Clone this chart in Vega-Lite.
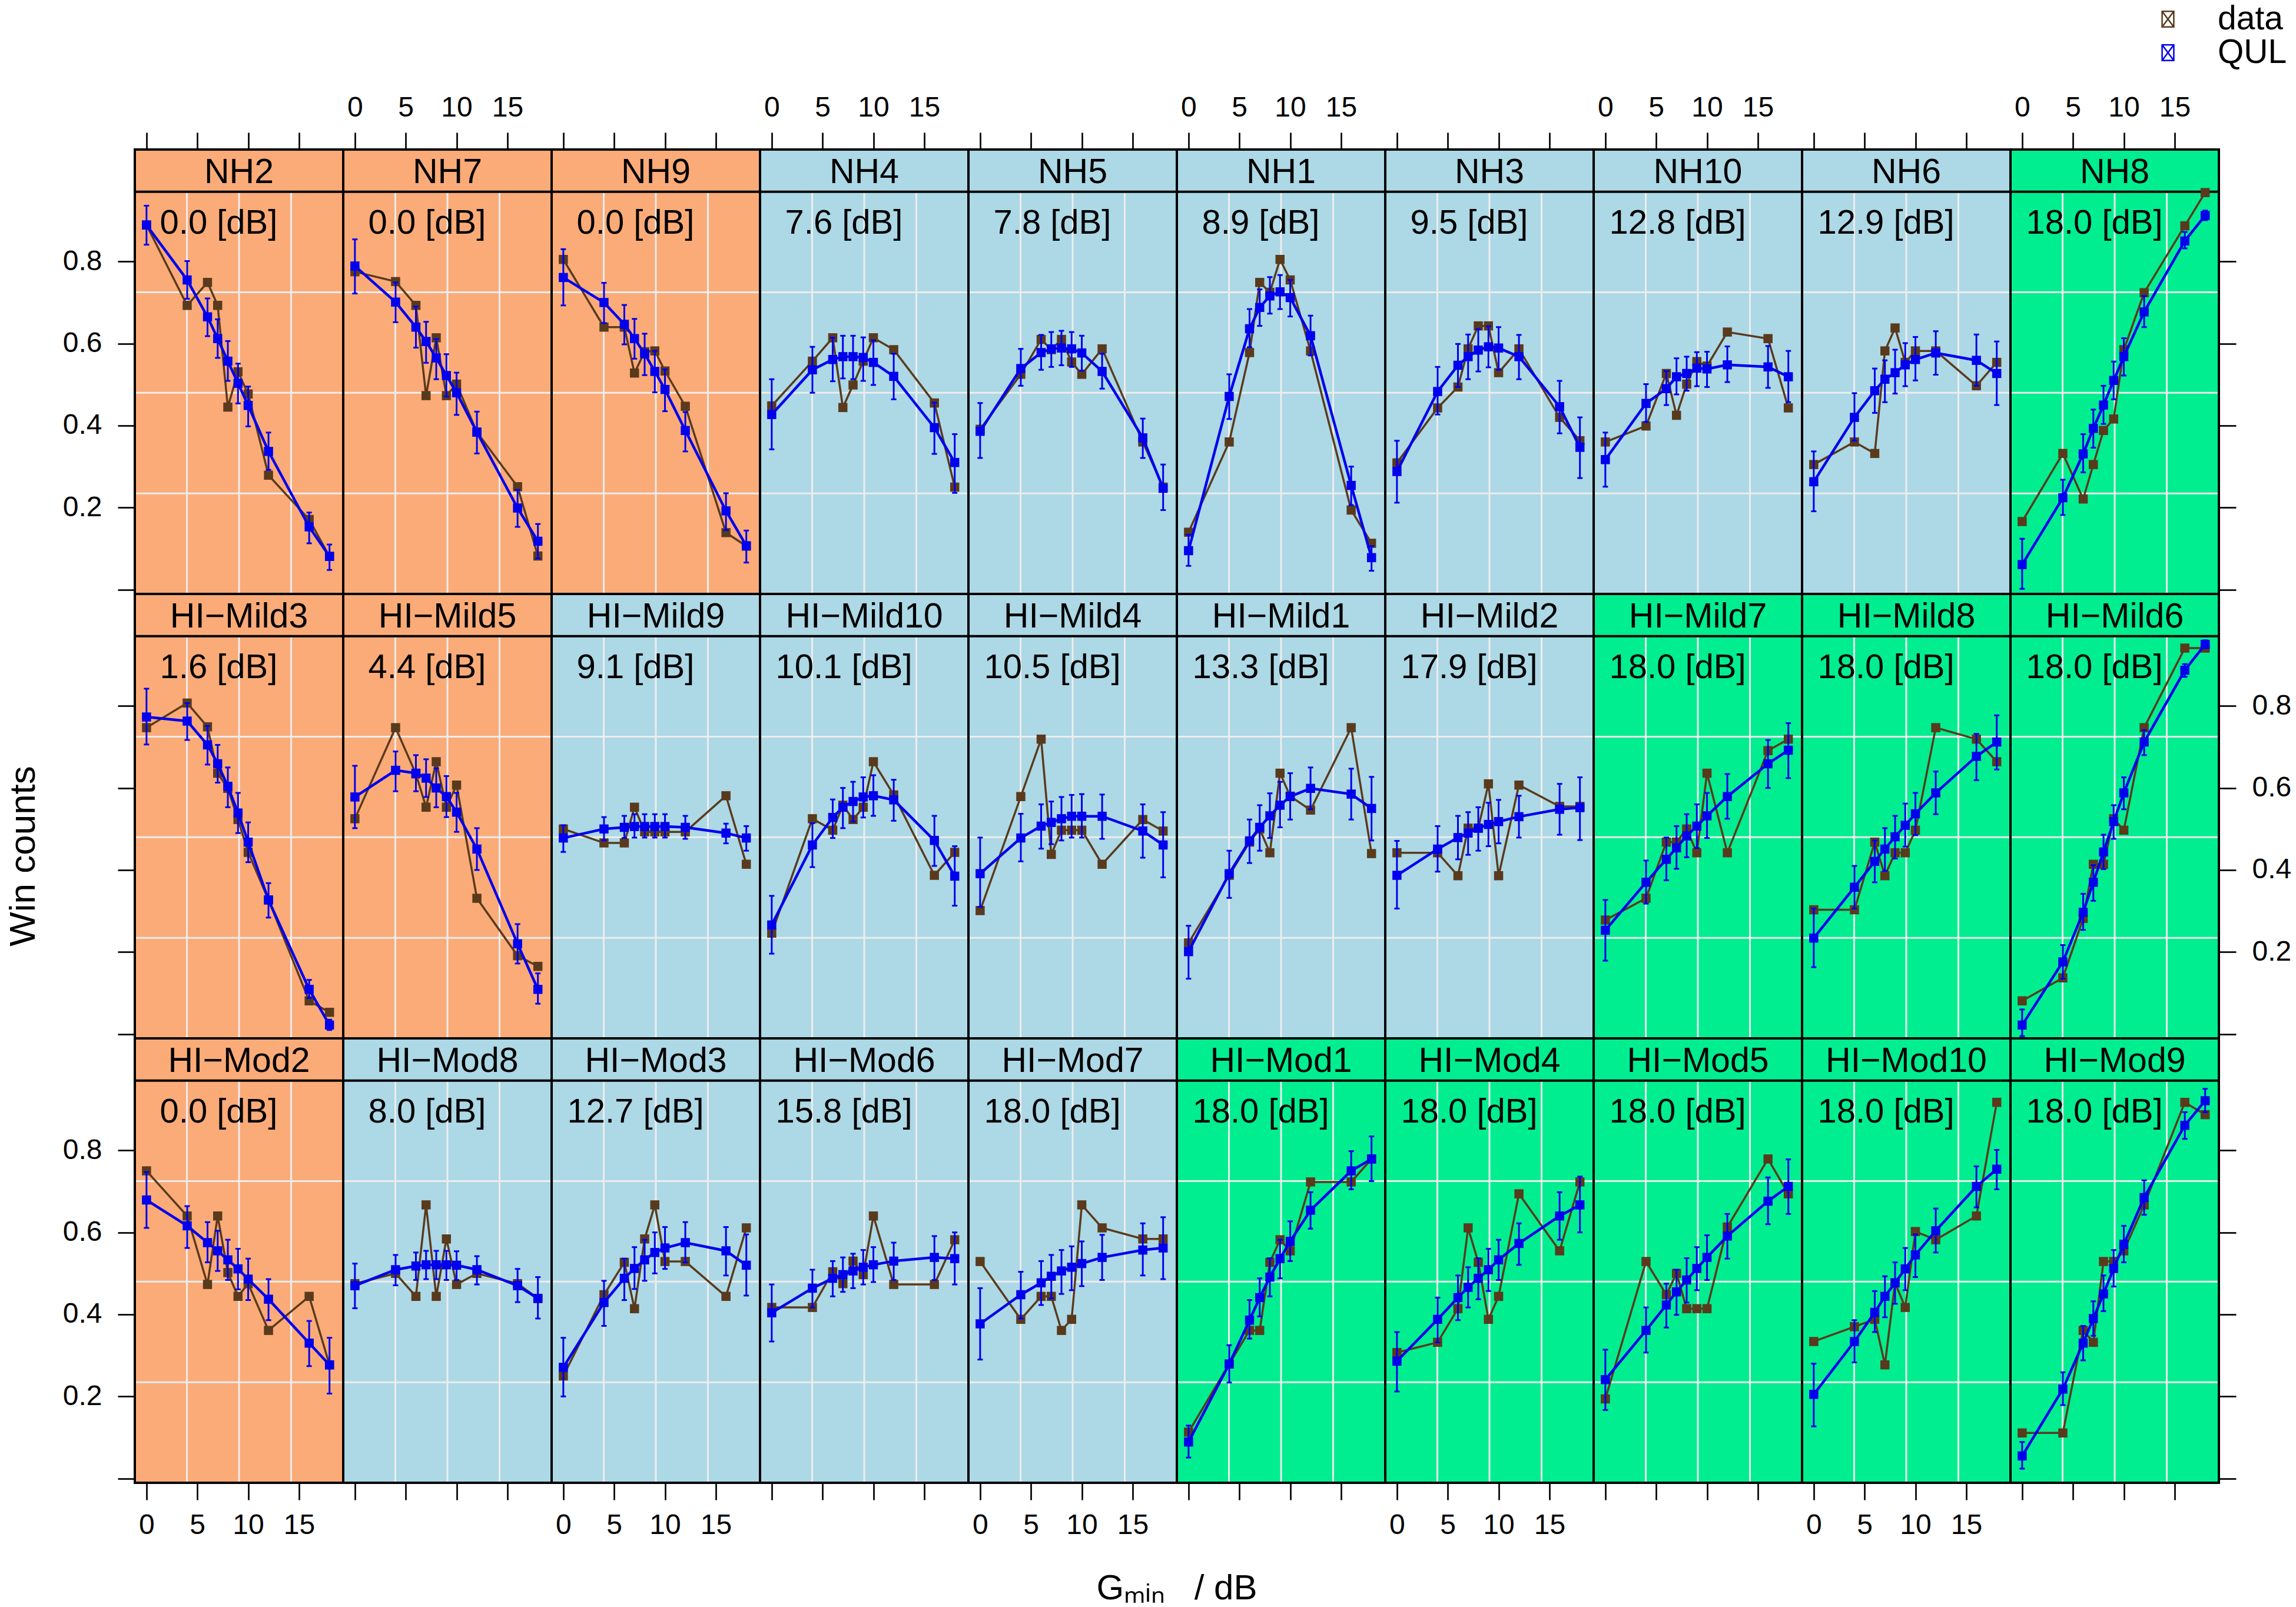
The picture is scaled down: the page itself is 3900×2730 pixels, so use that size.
{
  "$schema": "https://vega.github.io/schema/vega-lite/v6.json",
  "background": "white",
  "padding": {"left": 8, "top": 4, "right": 0, "bottom": 0},
  "bounds": "flush",
  "datasets": {
    "panels": [
      {"p": "NH2", "r": 1, "c": 1, "g": "o", "db": "0.0 [dB]"},
      {"p": "NH7", "r": 1, "c": 2, "g": "o", "db": "0.0 [dB]"},
      {"p": "NH9", "r": 1, "c": 3, "g": "o", "db": "0.0 [dB]"},
      {"p": "NH4", "r": 1, "c": 4, "g": "b", "db": "7.6 [dB]"},
      {"p": "NH5", "r": 1, "c": 5, "g": "b", "db": "7.8 [dB]"},
      {"p": "NH1", "r": 1, "c": 6, "g": "b", "db": "8.9 [dB]"},
      {"p": "NH3", "r": 1, "c": 7, "g": "b", "db": "9.5 [dB]"},
      {"p": "NH10", "r": 1, "c": 8, "g": "b", "db": "12.8 [dB]"},
      {"p": "NH6", "r": 1, "c": 9, "g": "b", "db": "12.9 [dB]"},
      {"p": "NH8", "r": 1, "c": 10, "g": "g", "db": "18.0 [dB]"},
      {"p": "HI−Mild3", "r": 2, "c": 1, "g": "o", "db": "1.6 [dB]"},
      {"p": "HI−Mild5", "r": 2, "c": 2, "g": "o", "db": "4.4 [dB]"},
      {"p": "HI−Mild9", "r": 2, "c": 3, "g": "b", "db": "9.1 [dB]"},
      {"p": "HI−Mild10", "r": 2, "c": 4, "g": "b", "db": "10.1 [dB]"},
      {"p": "HI−Mild4", "r": 2, "c": 5, "g": "b", "db": "10.5 [dB]"},
      {"p": "HI−Mild1", "r": 2, "c": 6, "g": "b", "db": "13.3 [dB]"},
      {"p": "HI−Mild2", "r": 2, "c": 7, "g": "b", "db": "17.9 [dB]"},
      {"p": "HI−Mild7", "r": 2, "c": 8, "g": "g", "db": "18.0 [dB]"},
      {"p": "HI−Mild8", "r": 2, "c": 9, "g": "g", "db": "18.0 [dB]"},
      {"p": "HI−Mild6", "r": 2, "c": 10, "g": "g", "db": "18.0 [dB]"},
      {"p": "HI−Mod2", "r": 3, "c": 1, "g": "o", "db": "0.0 [dB]"},
      {"p": "HI−Mod8", "r": 3, "c": 2, "g": "b", "db": "8.0 [dB]"},
      {"p": "HI−Mod3", "r": 3, "c": 3, "g": "b", "db": "12.7 [dB]"},
      {"p": "HI−Mod6", "r": 3, "c": 4, "g": "b", "db": "15.8 [dB]"},
      {"p": "HI−Mod7", "r": 3, "c": 5, "g": "b", "db": "18.0 [dB]"},
      {"p": "HI−Mod1", "r": 3, "c": 6, "g": "g", "db": "18.0 [dB]"},
      {"p": "HI−Mod4", "r": 3, "c": 7, "g": "g", "db": "18.0 [dB]"},
      {"p": "HI−Mod5", "r": 3, "c": 8, "g": "g", "db": "18.0 [dB]"},
      {"p": "HI−Mod10", "r": 3, "c": 9, "g": "g", "db": "18.0 [dB]"},
      {"p": "HI−Mod9", "r": 3, "c": 10, "g": "g", "db": "18.0 [dB]"}
    ],
    "pts": [
      {"p": "NH2", "x": 0, "d": 0.889, "q": 0.889, "lo": 0.841, "hi": 0.936},
      {"p": "NH2", "x": 4, "d": 0.693, "q": 0.755, "lo": 0.709, "hi": 0.801},
      {"p": "NH2", "x": 6, "d": 0.749, "q": 0.665, "lo": 0.618, "hi": 0.710},
      {"p": "NH2", "x": 7, "d": 0.693, "q": 0.612, "lo": 0.565, "hi": 0.659},
      {"p": "NH2", "x": 8, "d": 0.445, "q": 0.557, "lo": 0.509, "hi": 0.606},
      {"p": "NH2", "x": 9, "d": 0.531, "q": 0.503, "lo": 0.454, "hi": 0.551},
      {"p": "NH2", "x": 10, "d": 0.477, "q": 0.449, "lo": 0.398, "hi": 0.495},
      {"p": "NH2", "x": 12, "d": 0.279, "q": 0.337, "lo": 0.292, "hi": 0.383},
      {"p": "NH2", "x": 16, "d": 0.171, "q": 0.153, "lo": 0.113, "hi": 0.188},
      {"p": "NH2", "x": 18, "d": 0.081, "q": 0.081, "lo": 0.048, "hi": 0.110},
      {"p": "NH7", "x": 0, "d": 0.775, "q": 0.789, "lo": 0.722, "hi": 0.854},
      {"p": "NH7", "x": 4, "d": 0.751, "q": 0.701, "lo": 0.652, "hi": 0.749},
      {"p": "NH7", "x": 6, "d": 0.693, "q": 0.640, "lo": 0.590, "hi": 0.690},
      {"p": "NH7", "x": 7, "d": 0.473, "q": 0.605, "lo": 0.553, "hi": 0.653},
      {"p": "NH7", "x": 8, "d": 0.614, "q": 0.565, "lo": 0.513, "hi": 0.611},
      {"p": "NH7", "x": 9, "d": 0.473, "q": 0.522, "lo": 0.471, "hi": 0.574},
      {"p": "NH7", "x": 10, "d": 0.501, "q": 0.480, "lo": 0.426, "hi": 0.529},
      {"p": "NH7", "x": 12, "d": 0.384, "q": 0.384, "lo": 0.332, "hi": 0.434},
      {"p": "NH7", "x": 16, "d": 0.251, "q": 0.199, "lo": 0.153, "hi": 0.243},
      {"p": "NH7", "x": 18, "d": 0.082, "q": 0.118, "lo": 0.076, "hi": 0.160},
      {"p": "NH9", "x": 0, "d": 0.805, "q": 0.761, "lo": 0.693, "hi": 0.830},
      {"p": "NH9", "x": 4, "d": 0.640, "q": 0.700, "lo": 0.650, "hi": 0.748},
      {"p": "NH9", "x": 6, "d": 0.640, "q": 0.647, "lo": 0.598, "hi": 0.694},
      {"p": "NH9", "x": 7, "d": 0.528, "q": 0.612, "lo": 0.563, "hi": 0.660},
      {"p": "NH9", "x": 8, "d": 0.580, "q": 0.575, "lo": 0.523, "hi": 0.624},
      {"p": "NH9", "x": 9, "d": 0.582, "q": 0.532, "lo": 0.481, "hi": 0.582},
      {"p": "NH9", "x": 10, "d": 0.533, "q": 0.488, "lo": 0.435, "hi": 0.537},
      {"p": "NH9", "x": 12, "d": 0.447, "q": 0.388, "lo": 0.337, "hi": 0.433},
      {"p": "NH9", "x": 16, "d": 0.139, "q": 0.192, "lo": 0.145, "hi": 0.235},
      {"p": "NH9", "x": 18, "d": 0.106, "q": 0.107, "lo": 0.066, "hi": 0.144},
      {"p": "NH4", "x": 0, "d": 0.448, "q": 0.427, "lo": 0.342, "hi": 0.513},
      {"p": "NH4", "x": 4, "d": 0.557, "q": 0.536, "lo": 0.480, "hi": 0.592},
      {"p": "NH4", "x": 6, "d": 0.614, "q": 0.561, "lo": 0.508, "hi": 0.614},
      {"p": "NH4", "x": 7, "d": 0.444, "q": 0.568, "lo": 0.515, "hi": 0.619},
      {"p": "NH4", "x": 8, "d": 0.499, "q": 0.568, "lo": 0.513, "hi": 0.619},
      {"p": "NH4", "x": 9, "d": 0.557, "q": 0.566, "lo": 0.509, "hi": 0.615},
      {"p": "NH4", "x": 10, "d": 0.614, "q": 0.554, "lo": 0.499, "hi": 0.608},
      {"p": "NH4", "x": 12, "d": 0.585, "q": 0.520, "lo": 0.464, "hi": 0.575},
      {"p": "NH4", "x": 16, "d": 0.455, "q": 0.395, "lo": 0.331, "hi": 0.456},
      {"p": "NH4", "x": 18, "d": 0.250, "q": 0.310, "lo": 0.236, "hi": 0.379},
      {"p": "NH5", "x": 0, "d": 0.391, "q": 0.386, "lo": 0.321, "hi": 0.455},
      {"p": "NH5", "x": 4, "d": 0.525, "q": 0.539, "lo": 0.497, "hi": 0.587},
      {"p": "NH5", "x": 6, "d": 0.610, "q": 0.578, "lo": 0.536, "hi": 0.621},
      {"p": "NH5", "x": 7, "d": 0.585, "q": 0.587, "lo": 0.543, "hi": 0.628},
      {"p": "NH5", "x": 8, "d": 0.610, "q": 0.589, "lo": 0.547, "hi": 0.631},
      {"p": "NH5", "x": 9, "d": 0.555, "q": 0.587, "lo": 0.543, "hi": 0.628},
      {"p": "NH5", "x": 10, "d": 0.525, "q": 0.577, "lo": 0.534, "hi": 0.619},
      {"p": "NH5", "x": 12, "d": 0.587, "q": 0.532, "lo": 0.490, "hi": 0.575},
      {"p": "NH5", "x": 16, "d": 0.360, "q": 0.370, "lo": 0.321, "hi": 0.417},
      {"p": "NH5", "x": 18, "d": 0.250, "q": 0.247, "lo": 0.194, "hi": 0.305},
      {"p": "NH1", "x": 0, "d": 0.140, "q": 0.095, "lo": 0.058, "hi": 0.134},
      {"p": "NH1", "x": 4, "d": 0.360, "q": 0.471, "lo": 0.416, "hi": 0.525},
      {"p": "NH1", "x": 6, "d": 0.578, "q": 0.636, "lo": 0.591, "hi": 0.684},
      {"p": "NH1", "x": 7, "d": 0.749, "q": 0.688, "lo": 0.643, "hi": 0.732},
      {"p": "NH1", "x": 8, "d": 0.725, "q": 0.716, "lo": 0.673, "hi": 0.762},
      {"p": "NH1", "x": 9, "d": 0.805, "q": 0.726, "lo": 0.684, "hi": 0.767},
      {"p": "NH1", "x": 10, "d": 0.755, "q": 0.712, "lo": 0.666, "hi": 0.755},
      {"p": "NH1", "x": 12, "d": 0.582, "q": 0.619, "lo": 0.571, "hi": 0.668},
      {"p": "NH1", "x": 16, "d": 0.194, "q": 0.254, "lo": 0.206, "hi": 0.300},
      {"p": "NH1", "x": 18, "d": 0.113, "q": 0.078, "lo": 0.046, "hi": 0.106},
      {"p": "NH3", "x": 0, "d": 0.309, "q": 0.288, "lo": 0.212, "hi": 0.363},
      {"p": "NH3", "x": 4, "d": 0.443, "q": 0.483, "lo": 0.427, "hi": 0.543},
      {"p": "NH3", "x": 6, "d": 0.494, "q": 0.547, "lo": 0.494, "hi": 0.599},
      {"p": "NH3", "x": 7, "d": 0.587, "q": 0.568, "lo": 0.513, "hi": 0.622},
      {"p": "NH3", "x": 8, "d": 0.643, "q": 0.584, "lo": 0.532, "hi": 0.635},
      {"p": "NH3", "x": 9, "d": 0.643, "q": 0.592, "lo": 0.542, "hi": 0.642},
      {"p": "NH3", "x": 10, "d": 0.529, "q": 0.589, "lo": 0.536, "hi": 0.640},
      {"p": "NH3", "x": 12, "d": 0.587, "q": 0.568, "lo": 0.513, "hi": 0.621},
      {"p": "NH3", "x": 16, "d": 0.420, "q": 0.446, "lo": 0.381, "hi": 0.509},
      {"p": "NH3", "x": 18, "d": 0.363, "q": 0.347, "lo": 0.272, "hi": 0.420},
      {"p": "NH10", "x": 0, "d": 0.360, "q": 0.317, "lo": 0.251, "hi": 0.383},
      {"p": "NH10", "x": 4, "d": 0.399, "q": 0.454, "lo": 0.409, "hi": 0.501},
      {"p": "NH10", "x": 6, "d": 0.527, "q": 0.490, "lo": 0.450, "hi": 0.533},
      {"p": "NH10", "x": 7, "d": 0.425, "q": 0.519, "lo": 0.476, "hi": 0.564},
      {"p": "NH10", "x": 8, "d": 0.501, "q": 0.527, "lo": 0.485, "hi": 0.568},
      {"p": "NH10", "x": 9, "d": 0.556, "q": 0.540, "lo": 0.496, "hi": 0.579},
      {"p": "NH10", "x": 10, "d": 0.545, "q": 0.538, "lo": 0.494, "hi": 0.580},
      {"p": "NH10", "x": 12, "d": 0.628, "q": 0.548, "lo": 0.506, "hi": 0.593},
      {"p": "NH10", "x": 16, "d": 0.612, "q": 0.543, "lo": 0.492, "hi": 0.594},
      {"p": "NH10", "x": 18, "d": 0.443, "q": 0.519, "lo": 0.457, "hi": 0.582},
      {"p": "NH6", "x": 0, "d": 0.305, "q": 0.263, "lo": 0.191, "hi": 0.337},
      {"p": "NH6", "x": 4, "d": 0.360, "q": 0.420, "lo": 0.363, "hi": 0.479},
      {"p": "NH6", "x": 6, "d": 0.332, "q": 0.485, "lo": 0.431, "hi": 0.539},
      {"p": "NH6", "x": 7, "d": 0.582, "q": 0.513, "lo": 0.457, "hi": 0.559},
      {"p": "NH6", "x": 8, "d": 0.638, "q": 0.529, "lo": 0.478, "hi": 0.585},
      {"p": "NH6", "x": 9, "d": 0.554, "q": 0.548, "lo": 0.496, "hi": 0.601},
      {"p": "NH6", "x": 10, "d": 0.582, "q": 0.561, "lo": 0.510, "hi": 0.616},
      {"p": "NH6", "x": 12, "d": 0.582, "q": 0.577, "lo": 0.524, "hi": 0.630},
      {"p": "NH6", "x": 16, "d": 0.497, "q": 0.559, "lo": 0.497, "hi": 0.622},
      {"p": "NH6", "x": 18, "d": 0.554, "q": 0.527, "lo": 0.450, "hi": 0.605},
      {"p": "NH8", "x": 0, "d": 0.166, "q": 0.061, "lo": 0.002, "hi": 0.124},
      {"p": "NH8", "x": 4, "d": 0.332, "q": 0.224, "lo": 0.182, "hi": 0.268},
      {"p": "NH8", "x": 6, "d": 0.221, "q": 0.331, "lo": 0.286, "hi": 0.379},
      {"p": "NH8", "x": 7, "d": 0.305, "q": 0.393, "lo": 0.346, "hi": 0.439},
      {"p": "NH8", "x": 8, "d": 0.388, "q": 0.450, "lo": 0.404, "hi": 0.497},
      {"p": "NH8", "x": 9, "d": 0.416, "q": 0.510, "lo": 0.464, "hi": 0.556},
      {"p": "NH8", "x": 10, "d": 0.585, "q": 0.568, "lo": 0.522, "hi": 0.613},
      {"p": "NH8", "x": 12, "d": 0.724, "q": 0.677, "lo": 0.640, "hi": 0.716},
      {"p": "NH8", "x": 16, "d": 0.887, "q": 0.850, "lo": 0.832, "hi": 0.872},
      {"p": "NH8", "x": 18, "d": 0.968, "q": 0.912, "lo": 0.901, "hi": 0.924},
      {"p": "HI−Mild3", "x": 0, "d": 0.747, "q": 0.773, "lo": 0.706, "hi": 0.842},
      {"p": "HI−Mild3", "x": 4, "d": 0.807, "q": 0.763, "lo": 0.717, "hi": 0.807},
      {"p": "HI−Mild3", "x": 6, "d": 0.749, "q": 0.705, "lo": 0.657, "hi": 0.751},
      {"p": "HI−Mild3", "x": 7, "d": 0.636, "q": 0.659, "lo": 0.613, "hi": 0.705},
      {"p": "HI−Mild3", "x": 8, "d": 0.599, "q": 0.604, "lo": 0.553, "hi": 0.650},
      {"p": "HI−Mild3", "x": 9, "d": 0.523, "q": 0.539, "lo": 0.490, "hi": 0.588},
      {"p": "HI−Mild3", "x": 10, "d": 0.443, "q": 0.468, "lo": 0.419, "hi": 0.516},
      {"p": "HI−Mild3", "x": 12, "d": 0.327, "q": 0.327, "lo": 0.284, "hi": 0.368},
      {"p": "HI−Mild3", "x": 16, "d": 0.081, "q": 0.109, "lo": 0.088, "hi": 0.132},
      {"p": "HI−Mild3", "x": 18, "d": 0.053, "q": 0.022, "lo": 0.010, "hi": 0.035},
      {"p": "HI−Mild5", "x": 0, "d": 0.525, "q": 0.578, "lo": 0.502, "hi": 0.654},
      {"p": "HI−Mild5", "x": 4, "d": 0.747, "q": 0.643, "lo": 0.592, "hi": 0.689},
      {"p": "HI−Mild5", "x": 6, "d": 0.634, "q": 0.636, "lo": 0.592, "hi": 0.680},
      {"p": "HI−Mild5", "x": 7, "d": 0.553, "q": 0.624, "lo": 0.578, "hi": 0.670},
      {"p": "HI−Mild5", "x": 8, "d": 0.664, "q": 0.600, "lo": 0.553, "hi": 0.648},
      {"p": "HI−Mild5", "x": 9, "d": 0.553, "q": 0.579, "lo": 0.529, "hi": 0.629},
      {"p": "HI−Mild5", "x": 10, "d": 0.607, "q": 0.541, "lo": 0.493, "hi": 0.588},
      {"p": "HI−Mild5", "x": 12, "d": 0.331, "q": 0.451, "lo": 0.400, "hi": 0.502},
      {"p": "HI−Mild5", "x": 16, "d": 0.191, "q": 0.220, "lo": 0.172, "hi": 0.268},
      {"p": "HI−Mild5", "x": 18, "d": 0.165, "q": 0.109, "lo": 0.074, "hi": 0.148},
      {"p": "HI−Mild9", "x": 0, "d": 0.500, "q": 0.478, "lo": 0.444, "hi": 0.509},
      {"p": "HI−Mild9", "x": 4, "d": 0.466, "q": 0.500, "lo": 0.472, "hi": 0.529},
      {"p": "HI−Mild9", "x": 6, "d": 0.466, "q": 0.504, "lo": 0.478, "hi": 0.532},
      {"p": "HI−Mild9", "x": 7, "d": 0.553, "q": 0.506, "lo": 0.479, "hi": 0.536},
      {"p": "HI−Mild9", "x": 8, "d": 0.493, "q": 0.506, "lo": 0.479, "hi": 0.536},
      {"p": "HI−Mild9", "x": 9, "d": 0.493, "q": 0.506, "lo": 0.479, "hi": 0.536},
      {"p": "HI−Mild9", "x": 10, "d": 0.493, "q": 0.506, "lo": 0.479, "hi": 0.536},
      {"p": "HI−Mild9", "x": 12, "d": 0.493, "q": 0.504, "lo": 0.476, "hi": 0.532},
      {"p": "HI−Mild9", "x": 16, "d": 0.581, "q": 0.490, "lo": 0.465, "hi": 0.513},
      {"p": "HI−Mild9", "x": 18, "d": 0.414, "q": 0.478, "lo": 0.447, "hi": 0.507},
      {"p": "HI−Mild10", "x": 0, "d": 0.246, "q": 0.266, "lo": 0.196, "hi": 0.337},
      {"p": "HI−Mild10", "x": 4, "d": 0.525, "q": 0.461, "lo": 0.407, "hi": 0.514},
      {"p": "HI−Mild10", "x": 6, "d": 0.497, "q": 0.528, "lo": 0.478, "hi": 0.572},
      {"p": "HI−Mild10", "x": 7, "d": 0.558, "q": 0.553, "lo": 0.502, "hi": 0.600},
      {"p": "HI−Mild10", "x": 8, "d": 0.523, "q": 0.567, "lo": 0.518, "hi": 0.615},
      {"p": "HI−Mild10", "x": 9, "d": 0.553, "q": 0.578, "lo": 0.528, "hi": 0.626},
      {"p": "HI−Mild10", "x": 10, "d": 0.664, "q": 0.581, "lo": 0.532, "hi": 0.631},
      {"p": "HI−Mild10", "x": 12, "d": 0.583, "q": 0.571, "lo": 0.520, "hi": 0.620},
      {"p": "HI−Mild10", "x": 16, "d": 0.387, "q": 0.472, "lo": 0.410, "hi": 0.532},
      {"p": "HI−Mild10", "x": 18, "d": 0.443, "q": 0.385, "lo": 0.313, "hi": 0.458},
      {"p": "HI−Mild4", "x": 0, "d": 0.301, "q": 0.391, "lo": 0.310, "hi": 0.479},
      {"p": "HI−Mild4", "x": 4, "d": 0.579, "q": 0.478, "lo": 0.421, "hi": 0.537},
      {"p": "HI−Mild4", "x": 6, "d": 0.719, "q": 0.507, "lo": 0.452, "hi": 0.560},
      {"p": "HI−Mild4", "x": 7, "d": 0.438, "q": 0.516, "lo": 0.463, "hi": 0.567},
      {"p": "HI−Mild4", "x": 8, "d": 0.497, "q": 0.525, "lo": 0.472, "hi": 0.578},
      {"p": "HI−Mild4", "x": 9, "d": 0.497, "q": 0.531, "lo": 0.479, "hi": 0.583},
      {"p": "HI−Mild4", "x": 10, "d": 0.497, "q": 0.531, "lo": 0.479, "hi": 0.585},
      {"p": "HI−Mild4", "x": 12, "d": 0.414, "q": 0.531, "lo": 0.476, "hi": 0.584},
      {"p": "HI−Mild4", "x": 16, "d": 0.523, "q": 0.495, "lo": 0.430, "hi": 0.560},
      {"p": "HI−Mild4", "x": 18, "d": 0.495, "q": 0.461, "lo": 0.382, "hi": 0.541},
      {"p": "HI−Mild1", "x": 0, "d": 0.222, "q": 0.201, "lo": 0.135, "hi": 0.264},
      {"p": "HI−Mild1", "x": 4, "d": 0.387, "q": 0.391, "lo": 0.332, "hi": 0.447},
      {"p": "HI−Mild1", "x": 6, "d": 0.468, "q": 0.471, "lo": 0.417, "hi": 0.523},
      {"p": "HI−Mild1", "x": 7, "d": 0.500, "q": 0.504, "lo": 0.447, "hi": 0.558},
      {"p": "HI−Mild1", "x": 8, "d": 0.442, "q": 0.532, "lo": 0.478, "hi": 0.587},
      {"p": "HI−Mild1", "x": 9, "d": 0.636, "q": 0.558, "lo": 0.504, "hi": 0.615},
      {"p": "HI−Mild1", "x": 10, "d": 0.580, "q": 0.579, "lo": 0.523, "hi": 0.636},
      {"p": "HI−Mild1", "x": 12, "d": 0.546, "q": 0.599, "lo": 0.548, "hi": 0.650},
      {"p": "HI−Mild1", "x": 16, "d": 0.747, "q": 0.585, "lo": 0.523, "hi": 0.647},
      {"p": "HI−Mild1", "x": 18, "d": 0.440, "q": 0.550, "lo": 0.472, "hi": 0.627},
      {"p": "HI−Mild2", "x": 0, "d": 0.442, "q": 0.387, "lo": 0.306, "hi": 0.471},
      {"p": "HI−Mild2", "x": 4, "d": 0.442, "q": 0.451, "lo": 0.396, "hi": 0.507},
      {"p": "HI−Mild2", "x": 6, "d": 0.386, "q": 0.479, "lo": 0.426, "hi": 0.532},
      {"p": "HI−Mild2", "x": 7, "d": 0.502, "q": 0.490, "lo": 0.437, "hi": 0.541},
      {"p": "HI−Mild2", "x": 8, "d": 0.502, "q": 0.502, "lo": 0.447, "hi": 0.553},
      {"p": "HI−Mild2", "x": 9, "d": 0.610, "q": 0.511, "lo": 0.458, "hi": 0.564},
      {"p": "HI−Mild2", "x": 10, "d": 0.386, "q": 0.518, "lo": 0.465, "hi": 0.571},
      {"p": "HI−Mild2", "x": 12, "d": 0.607, "q": 0.530, "lo": 0.479, "hi": 0.581},
      {"p": "HI−Mild2", "x": 16, "d": 0.555, "q": 0.548, "lo": 0.486, "hi": 0.610},
      {"p": "HI−Mild2", "x": 18, "d": 0.555, "q": 0.552, "lo": 0.473, "hi": 0.626},
      {"p": "HI−Mild7", "x": 0, "d": 0.278, "q": 0.253, "lo": 0.179, "hi": 0.327},
      {"p": "HI−Mild7", "x": 4, "d": 0.331, "q": 0.370, "lo": 0.318, "hi": 0.423},
      {"p": "HI−Mild7", "x": 6, "d": 0.468, "q": 0.426, "lo": 0.375, "hi": 0.479},
      {"p": "HI−Mild7", "x": 7, "d": 0.468, "q": 0.454, "lo": 0.403, "hi": 0.507},
      {"p": "HI−Mild7", "x": 8, "d": 0.500, "q": 0.483, "lo": 0.431, "hi": 0.536},
      {"p": "HI−Mild7", "x": 9, "d": 0.442, "q": 0.507, "lo": 0.454, "hi": 0.560},
      {"p": "HI−Mild7", "x": 10, "d": 0.636, "q": 0.532, "lo": 0.478, "hi": 0.588},
      {"p": "HI−Mild7", "x": 12, "d": 0.442, "q": 0.579, "lo": 0.525, "hi": 0.634},
      {"p": "HI−Mild7", "x": 16, "d": 0.691, "q": 0.659, "lo": 0.600, "hi": 0.717},
      {"p": "HI−Mild7", "x": 18, "d": 0.719, "q": 0.692, "lo": 0.624, "hi": 0.758},
      {"p": "HI−Mild8", "x": 0, "d": 0.303, "q": 0.234, "lo": 0.163, "hi": 0.306},
      {"p": "HI−Mild8", "x": 4, "d": 0.303, "q": 0.358, "lo": 0.306, "hi": 0.410},
      {"p": "HI−Mild8", "x": 6, "d": 0.468, "q": 0.421, "lo": 0.370, "hi": 0.472},
      {"p": "HI−Mild8", "x": 7, "d": 0.386, "q": 0.451, "lo": 0.398, "hi": 0.502},
      {"p": "HI−Mild8", "x": 8, "d": 0.442, "q": 0.481, "lo": 0.428, "hi": 0.532},
      {"p": "HI−Mild8", "x": 9, "d": 0.442, "q": 0.509, "lo": 0.457, "hi": 0.562},
      {"p": "HI−Mild8", "x": 10, "d": 0.497, "q": 0.537, "lo": 0.485, "hi": 0.588},
      {"p": "HI−Mild8", "x": 12, "d": 0.747, "q": 0.588, "lo": 0.536, "hi": 0.640},
      {"p": "HI−Mild8", "x": 16, "d": 0.719, "q": 0.677, "lo": 0.619, "hi": 0.732},
      {"p": "HI−Mild8", "x": 18, "d": 0.664, "q": 0.712, "lo": 0.645, "hi": 0.777},
      {"p": "HI−Mild6", "x": 0, "d": 0.081, "q": 0.022, "lo": -0.005, "hi": 0.060},
      {"p": "HI−Mild6", "x": 4, "d": 0.137, "q": 0.176, "lo": 0.135, "hi": 0.217},
      {"p": "HI−Mild6", "x": 6, "d": 0.282, "q": 0.297, "lo": 0.254, "hi": 0.342},
      {"p": "HI−Mild6", "x": 7, "d": 0.414, "q": 0.370, "lo": 0.325, "hi": 0.412},
      {"p": "HI−Mild6", "x": 8, "d": 0.414, "q": 0.444, "lo": 0.402, "hi": 0.486},
      {"p": "HI−Mild6", "x": 9, "d": 0.525, "q": 0.518, "lo": 0.476, "hi": 0.558},
      {"p": "HI−Mild6", "x": 10, "d": 0.497, "q": 0.588, "lo": 0.548, "hi": 0.626},
      {"p": "HI−Mild6", "x": 12, "d": 0.747, "q": 0.712, "lo": 0.680, "hi": 0.741},
      {"p": "HI−Mild6", "x": 16, "d": 0.941, "q": 0.887, "lo": 0.871, "hi": 0.902},
      {"p": "HI−Mild6", "x": 18, "d": 0.941, "q": 0.950, "lo": 0.941, "hi": 0.960},
      {"p": "HI−Mod2", "x": 0, "d": 0.750, "q": 0.679, "lo": 0.611, "hi": 0.747},
      {"p": "HI−Mod2", "x": 4, "d": 0.640, "q": 0.616, "lo": 0.562, "hi": 0.664},
      {"p": "HI−Mod2", "x": 6, "d": 0.473, "q": 0.575, "lo": 0.527, "hi": 0.625},
      {"p": "HI−Mod2", "x": 7, "d": 0.640, "q": 0.555, "lo": 0.506, "hi": 0.604},
      {"p": "HI−Mod2", "x": 8, "d": 0.502, "q": 0.533, "lo": 0.484, "hi": 0.582},
      {"p": "HI−Mod2", "x": 9, "d": 0.444, "q": 0.511, "lo": 0.461, "hi": 0.560},
      {"p": "HI−Mod2", "x": 10, "d": 0.475, "q": 0.486, "lo": 0.435, "hi": 0.536},
      {"p": "HI−Mod2", "x": 12, "d": 0.361, "q": 0.437, "lo": 0.386, "hi": 0.486},
      {"p": "HI−Mod2", "x": 16, "d": 0.444, "q": 0.330, "lo": 0.274, "hi": 0.384},
      {"p": "HI−Mod2", "x": 18, "d": 0.277, "q": 0.277, "lo": 0.207, "hi": 0.343},
      {"p": "HI−Mod8", "x": 0, "d": 0.475, "q": 0.470, "lo": 0.415, "hi": 0.524},
      {"p": "HI−Mod8", "x": 4, "d": 0.500, "q": 0.509, "lo": 0.471, "hi": 0.545},
      {"p": "HI−Mod8", "x": 6, "d": 0.444, "q": 0.518, "lo": 0.484, "hi": 0.551},
      {"p": "HI−Mod8", "x": 7, "d": 0.667, "q": 0.521, "lo": 0.486, "hi": 0.555},
      {"p": "HI−Mod8", "x": 8, "d": 0.444, "q": 0.521, "lo": 0.486, "hi": 0.555},
      {"p": "HI−Mod8", "x": 9, "d": 0.584, "q": 0.521, "lo": 0.484, "hi": 0.555},
      {"p": "HI−Mod8", "x": 10, "d": 0.473, "q": 0.520, "lo": 0.484, "hi": 0.554},
      {"p": "HI−Mod8", "x": 12, "d": 0.500, "q": 0.509, "lo": 0.473, "hi": 0.542},
      {"p": "HI−Mod8", "x": 16, "d": 0.475, "q": 0.470, "lo": 0.430, "hi": 0.511},
      {"p": "HI−Mod8", "x": 18, "d": 0.439, "q": 0.439, "lo": 0.390, "hi": 0.491},
      {"p": "HI−Mod3", "x": 0, "d": 0.250, "q": 0.271, "lo": 0.200, "hi": 0.343},
      {"p": "HI−Mod3", "x": 4, "d": 0.448, "q": 0.429, "lo": 0.372, "hi": 0.482},
      {"p": "HI−Mod3", "x": 6, "d": 0.527, "q": 0.488, "lo": 0.435, "hi": 0.536},
      {"p": "HI−Mod3", "x": 7, "d": 0.414, "q": 0.512, "lo": 0.462, "hi": 0.564},
      {"p": "HI−Mod3", "x": 8, "d": 0.584, "q": 0.533, "lo": 0.482, "hi": 0.582},
      {"p": "HI−Mod3", "x": 9, "d": 0.667, "q": 0.551, "lo": 0.500, "hi": 0.600},
      {"p": "HI−Mod3", "x": 10, "d": 0.529, "q": 0.562, "lo": 0.511, "hi": 0.613},
      {"p": "HI−Mod3", "x": 12, "d": 0.529, "q": 0.575, "lo": 0.527, "hi": 0.625},
      {"p": "HI−Mod3", "x": 16, "d": 0.444, "q": 0.555, "lo": 0.495, "hi": 0.613},
      {"p": "HI−Mod3", "x": 18, "d": 0.611, "q": 0.520, "lo": 0.446, "hi": 0.595},
      {"p": "HI−Mod6", "x": 0, "d": 0.417, "q": 0.404, "lo": 0.334, "hi": 0.473},
      {"p": "HI−Mod6", "x": 4, "d": 0.417, "q": 0.464, "lo": 0.417, "hi": 0.509},
      {"p": "HI−Mod6", "x": 6, "d": 0.504, "q": 0.488, "lo": 0.444, "hi": 0.530},
      {"p": "HI−Mod6", "x": 7, "d": 0.475, "q": 0.497, "lo": 0.455, "hi": 0.539},
      {"p": "HI−Mod6", "x": 8, "d": 0.530, "q": 0.506, "lo": 0.464, "hi": 0.548},
      {"p": "HI−Mod6", "x": 9, "d": 0.497, "q": 0.515, "lo": 0.473, "hi": 0.557},
      {"p": "HI−Mod6", "x": 10, "d": 0.640, "q": 0.521, "lo": 0.479, "hi": 0.564},
      {"p": "HI−Mod6", "x": 12, "d": 0.473, "q": 0.530, "lo": 0.484, "hi": 0.575},
      {"p": "HI−Mod6", "x": 16, "d": 0.473, "q": 0.539, "lo": 0.484, "hi": 0.591},
      {"p": "HI−Mod6", "x": 18, "d": 0.582, "q": 0.536, "lo": 0.473, "hi": 0.600},
      {"p": "HI−Mod7", "x": 0, "d": 0.529, "q": 0.377, "lo": 0.290, "hi": 0.464},
      {"p": "HI−Mod7", "x": 4, "d": 0.388, "q": 0.448, "lo": 0.390, "hi": 0.504},
      {"p": "HI−Mod7", "x": 6, "d": 0.444, "q": 0.477, "lo": 0.423, "hi": 0.530},
      {"p": "HI−Mod7", "x": 7, "d": 0.444, "q": 0.493, "lo": 0.439, "hi": 0.545},
      {"p": "HI−Mod7", "x": 8, "d": 0.361, "q": 0.506, "lo": 0.450, "hi": 0.557},
      {"p": "HI−Mod7", "x": 9, "d": 0.388, "q": 0.515, "lo": 0.459, "hi": 0.566},
      {"p": "HI−Mod7", "x": 10, "d": 0.667, "q": 0.524, "lo": 0.469, "hi": 0.578},
      {"p": "HI−Mod7", "x": 12, "d": 0.611, "q": 0.539, "lo": 0.484, "hi": 0.594},
      {"p": "HI−Mod7", "x": 16, "d": 0.584, "q": 0.557, "lo": 0.495, "hi": 0.622},
      {"p": "HI−Mod7", "x": 18, "d": 0.584, "q": 0.562, "lo": 0.486, "hi": 0.637},
      {"p": "HI−Mod1", "x": 0, "d": 0.113, "q": 0.089, "lo": 0.051, "hi": 0.129},
      {"p": "HI−Mod1", "x": 4, "d": 0.279, "q": 0.279, "lo": 0.234, "hi": 0.325},
      {"p": "HI−Mod1", "x": 6, "d": 0.361, "q": 0.386, "lo": 0.341, "hi": 0.435},
      {"p": "HI−Mod1", "x": 7, "d": 0.361, "q": 0.441, "lo": 0.395, "hi": 0.488},
      {"p": "HI−Mod1", "x": 8, "d": 0.527, "q": 0.491, "lo": 0.444, "hi": 0.537},
      {"p": "HI−Mod1", "x": 9, "d": 0.582, "q": 0.536, "lo": 0.488, "hi": 0.582},
      {"p": "HI−Mod1", "x": 10, "d": 0.555, "q": 0.578, "lo": 0.530, "hi": 0.627},
      {"p": "HI−Mod1", "x": 12, "d": 0.723, "q": 0.654, "lo": 0.609, "hi": 0.698},
      {"p": "HI−Mod1", "x": 16, "d": 0.723, "q": 0.750, "lo": 0.705, "hi": 0.798},
      {"p": "HI−Mod1", "x": 18, "d": 0.779, "q": 0.779, "lo": 0.725, "hi": 0.834},
      {"p": "HI−Mod4", "x": 0, "d": 0.307, "q": 0.286, "lo": 0.212, "hi": 0.357},
      {"p": "HI−Mod4", "x": 4, "d": 0.332, "q": 0.388, "lo": 0.332, "hi": 0.441},
      {"p": "HI−Mod4", "x": 6, "d": 0.414, "q": 0.441, "lo": 0.386, "hi": 0.495},
      {"p": "HI−Mod4", "x": 7, "d": 0.611, "q": 0.466, "lo": 0.417, "hi": 0.515},
      {"p": "HI−Mod4", "x": 8, "d": 0.527, "q": 0.488, "lo": 0.437, "hi": 0.537},
      {"p": "HI−Mod4", "x": 9, "d": 0.388, "q": 0.509, "lo": 0.457, "hi": 0.560},
      {"p": "HI−Mod4", "x": 10, "d": 0.444, "q": 0.533, "lo": 0.484, "hi": 0.582},
      {"p": "HI−Mod4", "x": 12, "d": 0.694, "q": 0.573, "lo": 0.521, "hi": 0.622},
      {"p": "HI−Mod4", "x": 16, "d": 0.555, "q": 0.640, "lo": 0.582, "hi": 0.698},
      {"p": "HI−Mod4", "x": 18, "d": 0.723, "q": 0.667, "lo": 0.600, "hi": 0.736},
      {"p": "HI−Mod5", "x": 0, "d": 0.194, "q": 0.241, "lo": 0.167, "hi": 0.314},
      {"p": "HI−Mod5", "x": 4, "d": 0.529, "q": 0.361, "lo": 0.307, "hi": 0.417},
      {"p": "HI−Mod5", "x": 6, "d": 0.448, "q": 0.423, "lo": 0.368, "hi": 0.475},
      {"p": "HI−Mod5", "x": 7, "d": 0.500, "q": 0.455, "lo": 0.399, "hi": 0.509},
      {"p": "HI−Mod5", "x": 8, "d": 0.414, "q": 0.484, "lo": 0.429, "hi": 0.537},
      {"p": "HI−Mod5", "x": 9, "d": 0.414, "q": 0.512, "lo": 0.459, "hi": 0.564},
      {"p": "HI−Mod5", "x": 10, "d": 0.414, "q": 0.539, "lo": 0.484, "hi": 0.593},
      {"p": "HI−Mod5", "x": 12, "d": 0.613, "q": 0.591, "lo": 0.536, "hi": 0.645},
      {"p": "HI−Mod5", "x": 16, "d": 0.779, "q": 0.676, "lo": 0.620, "hi": 0.734},
      {"p": "HI−Mod5", "x": 18, "d": 0.694, "q": 0.712, "lo": 0.645, "hi": 0.778},
      {"p": "HI−Mod10", "x": 0, "d": 0.334, "q": 0.205, "lo": 0.127, "hi": 0.280},
      {"p": "HI−Mod10", "x": 4, "d": 0.370, "q": 0.334, "lo": 0.283, "hi": 0.386},
      {"p": "HI−Mod10", "x": 6, "d": 0.388, "q": 0.405, "lo": 0.357, "hi": 0.457},
      {"p": "HI−Mod10", "x": 7, "d": 0.277, "q": 0.444, "lo": 0.393, "hi": 0.493},
      {"p": "HI−Mod10", "x": 8, "d": 0.477, "q": 0.477, "lo": 0.426, "hi": 0.527},
      {"p": "HI−Mod10", "x": 9, "d": 0.417, "q": 0.511, "lo": 0.459, "hi": 0.562},
      {"p": "HI−Mod10", "x": 10, "d": 0.602, "q": 0.545, "lo": 0.491, "hi": 0.595},
      {"p": "HI−Mod10", "x": 12, "d": 0.582, "q": 0.604, "lo": 0.551, "hi": 0.658},
      {"p": "HI−Mod10", "x": 16, "d": 0.640, "q": 0.712, "lo": 0.661, "hi": 0.761},
      {"p": "HI−Mod10", "x": 18, "d": 0.917, "q": 0.754, "lo": 0.705, "hi": 0.801},
      {"p": "HI−Mod9", "x": 0, "d": 0.111, "q": 0.055, "lo": 0.024, "hi": 0.089},
      {"p": "HI−Mod9", "x": 4, "d": 0.111, "q": 0.218, "lo": 0.179, "hi": 0.259},
      {"p": "HI−Mod9", "x": 6, "d": 0.361, "q": 0.330, "lo": 0.288, "hi": 0.372},
      {"p": "HI−Mod9", "x": 7, "d": 0.332, "q": 0.390, "lo": 0.348, "hi": 0.432},
      {"p": "HI−Mod9", "x": 8, "d": 0.529, "q": 0.450, "lo": 0.408, "hi": 0.495},
      {"p": "HI−Mod9", "x": 9, "d": 0.529, "q": 0.512, "lo": 0.468, "hi": 0.557},
      {"p": "HI−Mod9", "x": 10, "d": 0.555, "q": 0.571, "lo": 0.527, "hi": 0.616},
      {"p": "HI−Mod9", "x": 12, "d": 0.667, "q": 0.685, "lo": 0.643, "hi": 0.727},
      {"p": "HI−Mod9", "x": 16, "d": 0.917, "q": 0.861, "lo": 0.828, "hi": 0.893},
      {"p": "HI−Mod9", "x": 18, "d": 0.887, "q": 0.921, "lo": 0.893, "hi": 0.950}
    ]
  },
  "data": {"name": "pts"},
  "transform": [
    {"lookup": "p", "from": {"data": {"name": "panels"}, "key": "p", "fields": ["r", "c", "g", "db"]}}
  ],
  "spacing": {"row": 0, "column": 0},
  "facet": {
    "row": {
      "field": "r", "type": "ordinal",
      "header": {"labels": false, "title": "Win counts\u2800\u2800\u2800", "titleFontSize": 62, "titleFontWeight": "normal", "titleColor": "black", "titlePadding": 24}
    },
    "column": {
      "field": "c", "type": "ordinal",
      "header": {"labels": false, "title": "Gₘᵢₙ\u00a0\u00a0 / dB", "titleOrient": "bottom", "titleFontSize": 60, "titleFontWeight": "normal", "titleColor": "black", "titlePadding": 45}
    }
  },
  "spec": {
    "width": 354,
    "height": 755,
    "resolve": {"axis": {"x": "independent", "y": "independent"}},
    "layer": [
      {
        "transform": [{"filter": "datum.x == 0"}],
        "layer": [
          {
            "mark": {"type": "rect", "strokeWidth": 0},
            "encoding": {
              "x": {"datum": -1.15, "type": "quantitative", "axis": null},
              "x2": {"datum": 19.35},
              "y": {"datum": -0.0105, "type": "quantitative", "axis": null},
              "y2": {"datum": 1.073},
              "fill": {"field": "g", "type": "nominal", "scale": {"domain": ["o", "b", "g"], "range": ["#FBAB78", "#ADD8E6", "#00EE90"]}, "legend": null}
            }
          },
          {
            "mark": {"type": "rule", "color": "#EDEDED", "strokeWidth": 3},
            "encoding": {
              "x": {"datum": 3.975, "type": "quantitative", "axis": null},
              "y": {"datum": -0.0105, "type": "quantitative", "axis": null},
              "y2": {"datum": 0.97}
            }
          },
          {
            "mark": {"type": "rule", "color": "#EDEDED", "strokeWidth": 3},
            "encoding": {
              "x": {"datum": 9.1, "type": "quantitative", "axis": null},
              "y": {"datum": -0.0105, "type": "quantitative", "axis": null},
              "y2": {"datum": 0.97}
            }
          },
          {
            "mark": {"type": "rule", "color": "#EDEDED", "strokeWidth": 3},
            "encoding": {
              "x": {"datum": 14.225, "type": "quantitative", "axis": null},
              "y": {"datum": -0.0105, "type": "quantitative", "axis": null},
              "y2": {"datum": 0.97}
            }
          },
          {
            "mark": {"type": "rule", "color": "#EDEDED", "strokeWidth": 3},
            "encoding": {
              "y": {"datum": 0.2346, "type": "quantitative", "axis": null},
              "x": {"datum": -1.15, "type": "quantitative", "axis": null},
              "x2": {"datum": 19.35}
            }
          },
          {
            "mark": {"type": "rule", "color": "#EDEDED", "strokeWidth": 3},
            "encoding": {
              "y": {"datum": 0.4798, "type": "quantitative", "axis": null},
              "x": {"datum": -1.15, "type": "quantitative", "axis": null},
              "x2": {"datum": 19.35}
            }
          },
          {
            "mark": {"type": "rule", "color": "#EDEDED", "strokeWidth": 3},
            "encoding": {
              "y": {"datum": 0.7249, "type": "quantitative", "axis": null},
              "x": {"datum": -1.15, "type": "quantitative", "axis": null},
              "x2": {"datum": 19.35}
            }
          },
          {
            "mark": {"type": "rect", "stroke": "black", "strokeWidth": 4},
            "encoding": {
              "x": {"datum": -1.15, "type": "quantitative", "axis": null},
              "x2": {"datum": 19.35},
              "y": {"datum": 0.97, "type": "quantitative", "axis": null},
              "y2": {"datum": 1.073},
              "fill": {"field": "g", "type": "nominal", "legend": null}
            }
          },
          {
            "mark": {"type": "text", "fontSize": 59, "align": "center", "baseline": "alphabetic", "color": "black"},
            "encoding": {
              "x": {"datum": 9.1, "type": "quantitative", "axis": null},
              "y": {"datum": 0.991, "type": "quantitative", "axis": null},
              "text": {"field": "p"}
            }
          },
          {
            "mark": {"type": "text", "fontSize": 58, "align": "center", "baseline": "alphabetic", "color": "black"},
            "encoding": {
              "x": {"datum": 7.1, "type": "quantitative", "axis": null},
              "y": {"datum": 0.8675, "type": "quantitative", "axis": null},
              "text": {"field": "db"}
            }
          }
        ]
      },
      {
        "mark": {"type": "line", "strokeWidth": 3.5},
        "encoding": {
          "x": {
            "field": "x", "type": "quantitative",
            "scale": {"domain": [-1.15, 19.35], "nice": false, "zero": false},
            "axis": {
              "orient": "top", "values": [0, 5, 10, 15], "format": "d", "title": null, "labelPadding": 18,
              "labelExpr": "(item && item.mark && item.mark.group && item.mark.group.mark && item.mark.group.mark.group && item.mark.group.mark.group.datum && item.mark.group.mark.group.datum.c % 2 == 1) ? '' : datum.label"
            }
          },
          "y": {
            "field": "d", "type": "quantitative",
            "scale": {"domain": [-0.0105, 1.073], "nice": false, "zero": false},
            "axis": {
              "orient": "left", "values": [0, 0.2, 0.4, 0.6, 0.8], "format": ".1f", "title": null, "labelPadding": 27,
              "labelExpr": "datum.value == 0 || (item && item.mark && item.mark.group && item.mark.group.mark && item.mark.group.mark.group && item.mark.group.mark.group.datum && item.mark.group.mark.group.datum.r == 2) ? '' : datum.label"
            }
          },
          "color": {
            "datum": "data", "type": "nominal",
            "scale": {"domain": ["data", "QUL"], "range": ["#5A3A1C", "#0000EE"]},
            "legend": {
              "orient": "none", "legendX": 3425, "legendY": -250, "title": null,
              "symbolType": "M-0.75,-1H0.75V1H-0.75Z M-0.75,-1L0.75,1 M0.75,-1L-0.75,1",
              "symbolSize": 700, "symbolStrokeWidth": 2.5, "symbolFillColor": "transparent",
              "labelFontSize": 57, "labelColor": "black", "labelOffset": 56, "rowPadding": -11, "padding": 0
            }
          }
        }
      },
      {
        "mark": {"type": "point", "shape": "square", "filled": true, "size": 240, "opacity": 1, "color": "#5A3A1C"},
        "encoding": {
          "x": {"field": "x", "type": "quantitative", "axis": null},
          "y": {"field": "d", "type": "quantitative", "axis": null}
        }
      },
      {
        "mark": {"type": "rule", "strokeWidth": 3, "color": "#0000EE"},
        "encoding": {
          "x": {"field": "x", "type": "quantitative", "axis": null},
          "y": {"field": "lo", "type": "quantitative", "axis": null},
          "y2": {"field": "hi"}
        }
      },
      {
        "mark": {"type": "tick", "orient": "horizontal", "size": 9, "thickness": 3, "color": "#0000EE", "opacity": 1},
        "encoding": {
          "x": {"field": "x", "type": "quantitative", "axis": null},
          "y": {"field": "lo", "type": "quantitative", "axis": null}
        }
      },
      {
        "mark": {"type": "tick", "orient": "horizontal", "size": 9, "thickness": 3, "color": "#0000EE", "opacity": 1},
        "encoding": {
          "x": {"field": "x", "type": "quantitative", "axis": null},
          "y": {"field": "hi", "type": "quantitative", "axis": null}
        }
      },
      {
        "mark": {"type": "line", "strokeWidth": 4.5},
        "encoding": {
          "x": {
            "field": "x", "type": "quantitative",
            "axis": {
              "orient": "bottom", "values": [0, 5, 10, 15], "format": "d", "title": null, "labelPadding": 19,
              "labelExpr": "(item && item.mark && item.mark.group && item.mark.group.mark && item.mark.group.mark.group && item.mark.group.mark.group.datum && item.mark.group.mark.group.datum.c % 2 == 0) ? '' : datum.label"
            }
          },
          "y": {
            "field": "q", "type": "quantitative",
            "axis": {
              "orient": "right", "values": [0, 0.2, 0.4, 0.6, 0.8], "format": ".1f", "title": null, "labelPadding": 27,
              "labelExpr": "datum.value == 0 || (item && item.mark && item.mark.group && item.mark.group.mark && item.mark.group.mark.group && item.mark.group.mark.group.datum && item.mark.group.mark.group.datum.r != 2) ? '' : datum.label"
            }
          },
          "color": {"datum": "QUL", "type": "nominal"}
        }
      },
      {
        "mark": {"type": "point", "shape": "square", "filled": true, "size": 240, "opacity": 1, "color": "#0000EE"},
        "encoding": {
          "x": {"field": "x", "type": "quantitative", "axis": null},
          "y": {"field": "q", "type": "quantitative", "axis": null}
        }
      },
      {
        "transform": [{"filter": "datum.x == 0"}],
        "mark": {"type": "rect", "fill": null, "fillOpacity": 0, "stroke": "black", "strokeWidth": 4},
        "encoding": {
          "x": {"datum": -1.15, "type": "quantitative", "axis": null},
          "x2": {"datum": 19.35},
          "y": {"datum": -0.0105, "type": "quantitative", "axis": null},
          "y2": {"datum": 1.073}
        }
      }
    ]
  },
  "config": {
    "font": "Liberation Sans",
    "view": {"stroke": null},
    "axis": {
      "domain": false, "grid": false, "ticks": true, "tickColor": "black", "tickWidth": 2.7, "tickSize": 29,
      "labelFontSize": 48, "labelColor": "black", "labelPadding": 18, "labelOverlap": false, "labelFlush": false, "labelBound": false
    }
  }
}
